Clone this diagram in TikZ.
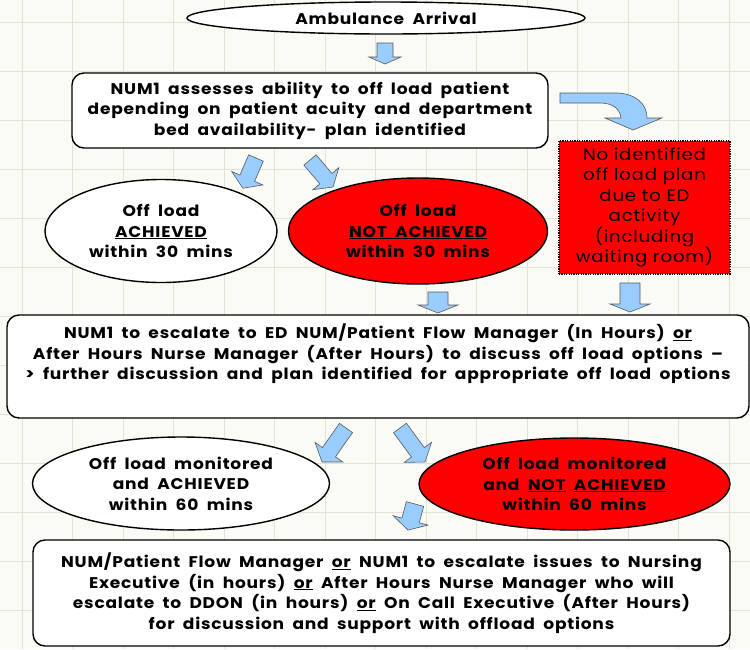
\documentclass[tikz,border=0pt]{standalone}
\usepackage{fontspec}
\setmainfont{Poppins}[LetterSpace=5, UprightFeatures={FakeStretch=1.1}, BoldFeatures={FakeStretch=1.1, WordSpace=1.9}]
\usetikzlibrary{shapes.geometric}
\definecolor{bgc}{HTML}{FBFBF6}
\definecolor{gridc}{HTML}{E2E2DA}
\definecolor{arrowblue}{HTML}{99CCFF}
\definecolor{alertred}{HTML}{FF0000}
\tikzset{
 base/.style={draw=black, line width=1.4pt, font=\bfseries\fontsize{15.5}{20.5}\selectfont, align=center, inner sep=0pt},
 roundbox/.style={base, rectangle, rounded corners=12pt, fill=white},
 oval/.style={base, ellipse, fill=white},
 redoval/.style={base, ellipse, fill=alertred},
 plaintext/.style={base, draw=none, fill=none},
 dotbox/.style={rectangle, draw=black, line width=1.2pt, dash pattern=on 1.2pt off 1.2pt, fill=alertred, font=\fontsize{16.5}{20.5}\selectfont, align=center, inner sep=0pt},
 blockarrow/.style={draw=black!65, line width=0.6pt, fill=arrowblue, line join=miter},
}
\newcommand{\blkarrow}[6]{%
\begin{scope}[shift={#1}, rotate=#2]
\draw[blockarrow] (0,-#4) -- ({#3-#6},-#4) -- ({#3-#6},-#5) -- (#3,0) -- ({#3-#6},#5) -- ({#3-#6},#4) -- (0,#4) -- cycle;
\end{scope}}
\begin{document}
\begin{tikzpicture}[x=1pt,y=-1pt]
\useasboundingbox (0,0) rectangle (750,649);
\fill[bgc] (0,0) rectangle (750,649);
\foreach \i in {0,...,14} \draw[gridc, line width=0.8pt] ({22+50.5*\i},0) -- ++(0,649);
\foreach \j in {0,...,13} \draw[gridc, line width=0.8pt] (0,{22+49*\j}) -- ++(750,0);

\node[oval, minimum width=398pt, minimum height=32pt] (amb) at (386,18) {Ambulance Arrival};
\node[roundbox, minimum width=476pt, minimum height=75pt] (assess) at (310,110.5) {NUM1 assesses ability to off load patient\\depending on patient acuity and department\\bed availability- plan identified};
\node[oval, minimum width=232pt, minimum height=103pt] (ach30) at (161,231) {Off load\\\underline{ACHIEVED}\\within 30 mins};
\node[redoval, minimum width=259pt, minimum height=106pt] (not30) at (418,231) {Off load\\\underline{NOT ACHIEVED}\\within 30 mins};
\node[dotbox, minimum width=171pt, minimum height=133pt] (noplan) at (644.5,207.5) {No identified\\off load plan\\due to ED\\activity\\(including\\waiting room)};
\node[roundbox, minimum width=742pt, minimum height=103pt] (esc) at (378,366.5) {};
\node[plaintext] (esctext) at (378,354) {NUM1 to escalate to ED NUM/Patient Flow Manager (In Hours) \underline{or}\\After Hours Nurse Manager (After Hours) to discuss off load options --\\> further discussion and plan identified for appropriate off load options};
\node[oval, minimum width=297pt, minimum height=93pt] (ach60) at (181,483.5) {Off load monitored\\and ACHIEVED\\within 60 mins};
\node[redoval, minimum width=311pt, minimum height=92pt] (not60) at (574.5,484) {Off load monitored\\and \underline{NOT} \underline{ACHIEVED}\\within 60 mins};
\node[roundbox, minimum width=697pt, minimum height=106pt] (exec) at (381.5,593) {NUM/Patient Flow Manager \underline{or} NUM1 to escalate issues to Nursing\\Executive (in hours) \underline{or} After Hours Nurse Manager who will\\escalate to DDON (in hours) \underline{or} On Call Executive (After Hours)\\for discussion and support with offload options};

\blkarrow{(385,43)}{-90}{21}{8}{16}{7}
\blkarrow{(256,158)}{-113.4}{33}{8}{17}{11}
\blkarrow{(310,160)}{-49.6}{35.5}{8}{17}{11}
\blkarrow{(438,292)}{-90}{21}{10}{20}{8}
\blkarrow{(630,283)}{-90}{29}{10}{20}{8}
\blkarrow{(346,428)}{-125.2}{41.6}{8}{17}{12}
\blkarrow{(400,428)}{-53.7}{42.2}{8}{17}{12}
\blkarrow{(415,504)}{-105}{27}{9}{18}{10}
\draw[blockarrow] (560,93) -- (618,93) .. controls (636,94) and (647,104) .. (647,118) -- (662,118) -- (633,130) -- (605,118) -- (621,118) .. controls (620,109) and (613,103) .. (600,103) -- (560,103) -- cycle;
\end{tikzpicture}
\end{document}
